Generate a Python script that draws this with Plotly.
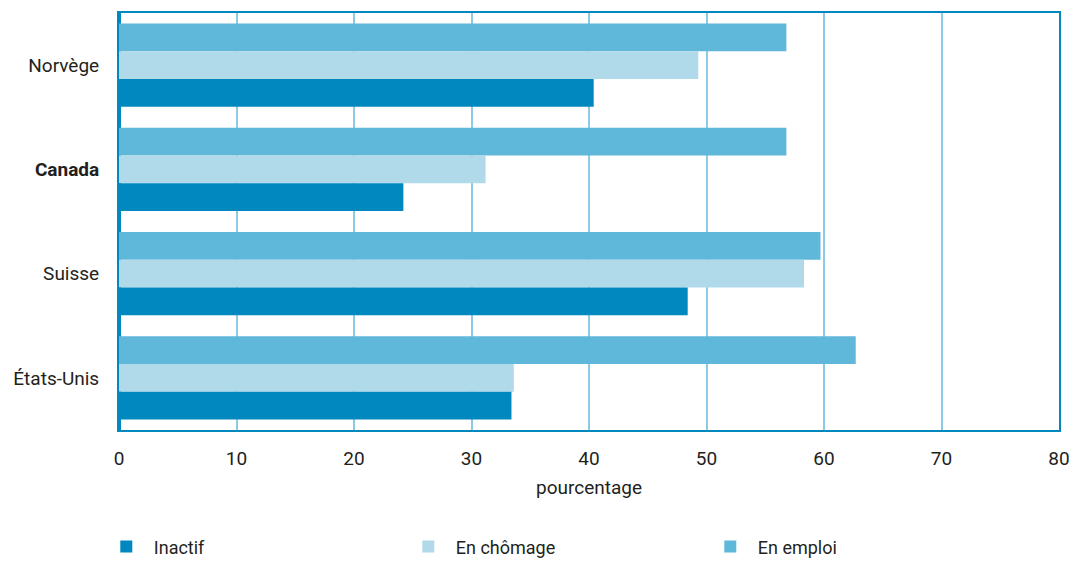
import plotly.graph_objects as go

categories = ["Norvège", "Canada", "Suisse", "États-Unis"]
tick_labels = ["Norvège", "<b>Canada</b>", "Suisse", "États-Unis"]
en_emploi = [56.8, 56.8, 59.7, 62.7]
en_chomage = [49.3, 31.2, 58.3, 33.6]
inactif = [40.4, 24.2, 48.4, 33.4]

series = [
    ("En emploi", en_emploi, "#5FB7DA"),
    ("En chômage", en_chomage, "#B0D9EA"),
    ("Inactif", inactif, "#0088BF"),
]

font_family = "Roboto, Liberation Sans Narrow, sans-serif"
text_color = "#231F20"

fig = go.Figure()
for name, vals, color in series:
    fig.add_trace(go.Bar(
        y=categories, x=vals, name=name, orientation="h",
        marker=dict(color=color, line=dict(width=0)),
    ))

# page body has an 8px margin: compensate in size and margins
fig.update_layout(
    width=1069, height=553,
    barmode="group", bargap=0.2, bargroupgap=0,
    paper_bgcolor="white", plot_bgcolor="white",
    margin=dict(l=111, r=18, t=5, b=131, autoexpand=False),
    font=dict(family=font_family, size=19, color=text_color),
    showlegend=True,
    legend=dict(
        orientation="h", traceorder="reversed",
        x=-0.0215, xanchor="left", y=-0.236, yanchor="top",
        entrywidth=242, entrywidthmode="pixels", itemwidth=45,
        font=dict(size=18, color=text_color),
        bgcolor="rgba(0,0,0,0)",
    ),
)

fig.update_xaxes(
    range=[0, 80], tickvals=[0, 10, 20, 30, 40, 50, 60, 70, 80],
    showgrid=True, gridcolor="#8CCBE8", gridwidth=2,
    showline=True, linecolor="#0088BF", linewidth=2, mirror=True,
    zeroline=True, zerolinecolor="#0088BF", zerolinewidth=3,
    ticks="", ticklabelstandoff=10,
    title=dict(text="pourcentage", standoff=12, font=dict(size=19, color=text_color)),
    tickfont=dict(size=19, color=text_color),
)
fig.update_yaxes(
    categoryorder="array", categoryarray=categories,
    tickvals=categories, ticktext=tick_labels,
    autorange="reversed",
    showline=True, linecolor="#0088BF", linewidth=2, mirror=True,
    ticks="", ticklabelstandoff=14,
    tickfont=dict(size=19, color=text_color),
    showgrid=False,
)

fig.write_html("out.html")
